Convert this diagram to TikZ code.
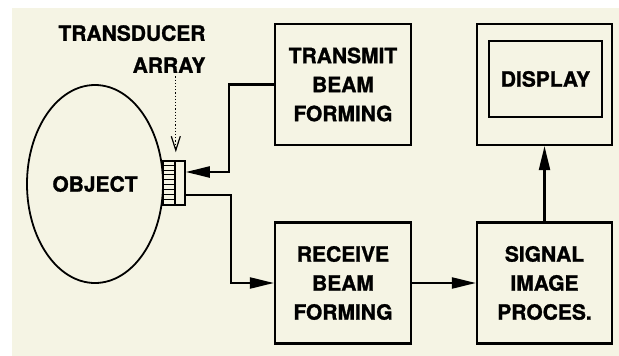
\documentclass[tikz,border=0pt]{standalone}
\usepackage{fontspec}
\setmainfont{TeX Gyre Heros}[BoldFeatures={FakeBold=1.2}]
\usetikzlibrary{arrows.meta,shapes.geometric}
\definecolor{paper}{HTML}{F5F4E4}
\begin{document}
\begin{tikzpicture}[x=1pt,y=-1pt,
  txt/.style={font=\fontsize{21}{29}\selectfont\bfseries},
  blockbox/.style={draw,rectangle,txt,line width=2.2pt,minimum width=136pt,minimum height=121pt,align=center},
  objnode/.style={draw,ellipse,txt,line width=1.8pt,minimum width=136pt,minimum height=198pt,inner sep=0pt},
  arr/.style={line width=2.2pt,-{Triangle[length=24pt,width=11pt]}}]
\useasboundingbox (0,0) rectangle (619,356);
\fill[white] (0,0) rectangle (619,356);
\fill[paper] (12,8) rectangle (619,356);
% object and transducer
\node[objnode] (obj) at (95,184) {OBJECT};
\node[draw,line width=1.6pt,minimum width=12pt,minimum height=44pt,inner sep=0pt] (hatch) at (169,183) {};
\node[draw,line width=1.6pt,minimum width=10pt,minimum height=44pt,inner sep=0pt] (tdbox) at (180,183) {};
\foreach \i in {1,...,8}
  \draw[line width=1pt] (hatch.north west) ++(0,4.9*\i) -- ++(12,0);
\node[txt,align=right,anchor=east,font=\fontsize{21}{32}\selectfont\bfseries] (tdlabel) at (209,49) {TRANSDUCER\\ARRAY};
\draw[dotted,line width=1.2pt,-{Straight Barb[length=14pt,width=9pt,line width=1.2pt]}] (hatch.east |- tdlabel.south) -- ([yshift=8pt]hatch.north east);
% blocks
\node[blockbox] (tx) at (343,84.5) {TRANSMIT\\BEAM\\FORMING};
\node[blockbox] (rx) at (343,283) {RECEIVE\\BEAM\\FORMING};
\node[blockbox,minimum width=135pt] (sig) at (544.5,283) {SIGNAL\\IMAGE\\PROCES.};
\node[blockbox,minimum width=135pt] (disp) at (544.5,84.5) {};
\node[draw,rectangle,txt,line width=2.2pt,minimum width=113pt,minimum height=76pt] (scr) at (545.5,79) {DISPLAY};
% connections
\draw[arr] (tx.west) -- ++(-45,0) |- ([yshift=11pt]tdbox.east);
\draw[arr] ([yshift=-12pt]tdbox.east) -- ++(45,0) |- (rx.west);
\draw[arr] (rx) -- (sig);
\draw[arr] (sig) -- (disp);
\end{tikzpicture}
\end{document}
